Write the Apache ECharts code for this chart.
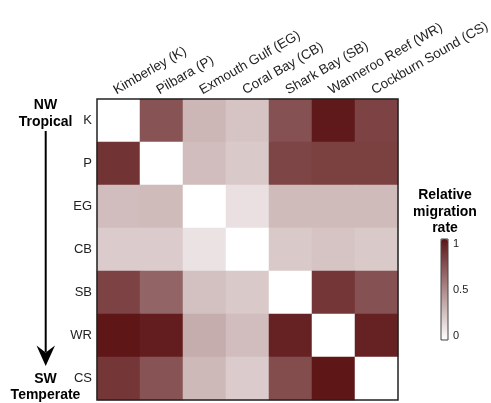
<!DOCTYPE html>
<html>
<head>
<meta charset="utf-8">
<script src="https://cdn.jsdelivr.net/npm/echarts@6/dist/echarts.min.js"></script>
<style>html,body{margin:0;padding:0;background:#fff;}#c{width:491px;height:403px;}</style>
</head>
<body>
<div id="c"></div>
<script>
var xLabels = ['Kimberley (K)', 'Pilbara (P)', 'Exmouth Gulf (EG)', 'Coral Bay (CB)', 'Shark Bay (SB)', 'Wanneroo Reef (WR)', 'Cockburn Sound (CS)'];
var yLabels = ['K', 'P', 'EG', 'CB', 'SB', 'WR', 'CS'];
// rows = source (y), columns = destination (x)
var rowK  = [0,    0.73, 0.31, 0.25, 0.74, 0.98, 0.80];
var rowP  = [0.87, 0,    0.28, 0.23, 0.79, 0.81, 0.81];
var rowEG = [0.28, 0.29, 0,    0.13, 0.29, 0.29, 0.29];
var rowCB = [0.22, 0.22, 0.12, 0,    0.23, 0.25, 0.23];
var rowSB = [0.80, 0.66, 0.27, 0.23, 0,    0.855, 0.74];
var rowWR = [0.99, 0.96, 0.35, 0.28, 0.94, 0,    0.94];
var rowCS = [0.855, 0.73, 0.30, 0.22, 0.76, 0.99, 0];
var rows = [rowK, rowP, rowEG, rowCB, rowSB, rowWR, rowCS];
var scaleTicks = ['1', '0.5', '0'];

var data = [];
rows.forEach(function (r, yi) {
  r.forEach(function (v, xi) { data.push([xi, yi, v]); });
});

var chart = echarts.init(document.getElementById('c'), null, {renderer: 'canvas'});
var font = 'Liberation Sans, Arial, sans-serif';
var GL = 97, GT = 99, GW = 301, GH = 301;
var CB = {x: 441, y: 239, w: 7, h: 101};
var tickInset = 4.5;

var graphics = [
  {type: 'text', style: {text: 'NW\nTropical', x: 45.5, y: 96, align: 'center', font: 'bold 14px ' + font, lineHeight: 17.5, fill: '#000'}},
  {type: 'line', shape: {x1: 45.7, y1: 131, x2: 45.7, y2: 352}, style: {stroke: '#000', lineWidth: 2}},
  {type: 'polygon', shape: {points: [[36.5, 345.5], [45.7, 352.5], [55, 345.5], [45.7, 366]]}, style: {fill: '#000'}},
  {type: 'text', style: {text: 'SW\nTemperate', x: 45.5, y: 370.5, align: 'center', font: 'bold 14px ' + font, lineHeight: 16.5, fill: '#000'}},
  {type: 'text', style: {text: 'Relative\nmigration\nrate', x: 445, y: 187, align: 'center', font: 'bold 14px ' + font, lineHeight: 16.5, fill: '#000'}},
  {type: 'rect', z: 100, shape: {x: CB.x, y: CB.y, width: CB.w, height: CB.h}, style: {fill: null, stroke: '#444', lineWidth: 1}}
];
scaleTicks.forEach(function (t, i) {
  var span = CB.h - 2 * tickInset;
  graphics.push({type: 'text', style: {text: t, x: 453, y: CB.y + tickInset + i * span / (scaleTicks.length - 1), verticalAlign: 'middle', font: '11px ' + font, fill: '#222'}});
});

chart.setOption({
  animation: false,
  backgroundColor: '#fff',
  grid: {left: GL, top: GT, width: GW, height: GH, show: true, z: 5, borderColor: '#222', borderWidth: 1.5, backgroundColor: 'transparent', containLabel: false, outerBoundsMode: 'none'},
  xAxis: {
    type: 'category', data: xLabels, position: 'top',
    axisLine: {show: false}, axisTick: {show: false}, splitLine: {show: false},
    axisLabel: {rotate: -30, margin: 10, padding: [0, 0, 12, -4.5], fontSize: 13.5, fontFamily: font, color: '#222', interval: 0}
  },
  yAxis: {
    type: 'category', data: yLabels, inverse: true,
    axisLine: {show: false}, axisTick: {show: false}, splitLine: {show: false},
    axisLabel: {margin: 5, fontSize: 13, fontFamily: font, color: '#222'}
  },
  visualMap: {
    type: 'continuous', min: 0, max: 1, calculable: false, show: true,
    orient: 'vertical', left: CB.x, top: CB.y, itemWidth: CB.w, itemHeight: CB.h,
    padding: 0, text: null, showLabel: false,
    inRange: {color: ['#ffffff', '#5c1415']}
  },
  series: [{
    type: 'heatmap', data: data,
    itemStyle: {borderWidth: 0},
    emphasis: {disabled: true}
  }],
  graphic: graphics
});
</script>
</body>
</html>
